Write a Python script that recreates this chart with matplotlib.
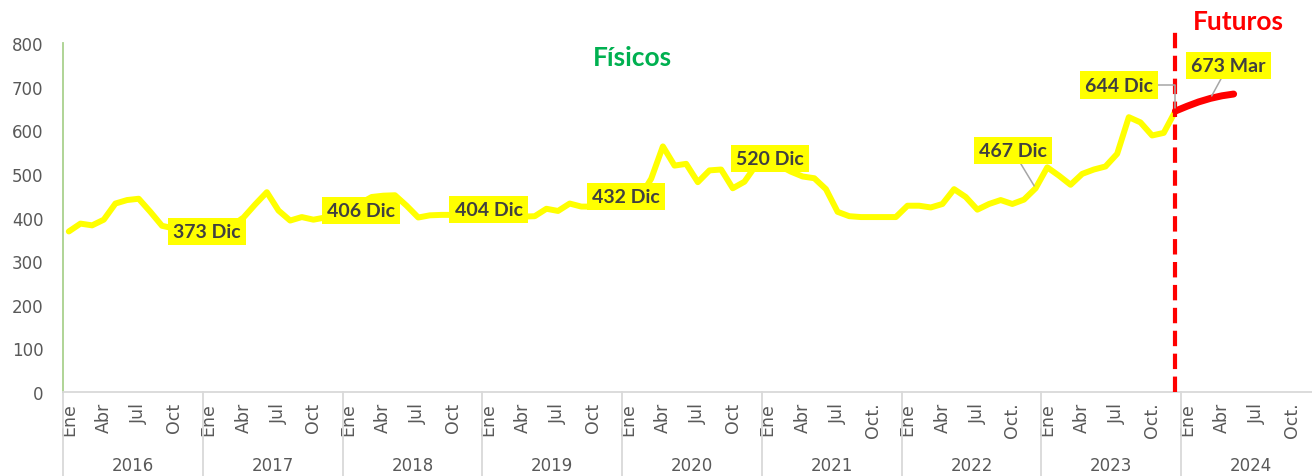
import matplotlib.pyplot as plt

# Precios físicos mensuales (Ene 2016 - Dic 2023)
years = ['2016', '2017', '2018', '2019', '2020', '2021', '2022', '2023', '2024']
quarter_labels = ['Ene', 'Abr', 'Jul']
oct_labels = ['Oct', 'Oct', 'Oct', 'Oct', 'Oct', 'Oct.', 'Oct.', 'Oct.', 'Oct.']

fisicos_2016 = [368, 386, 382, 395, 432, 440, 443, 413, 381, 375, 372, 373]
fisicos_2017 = [375, 378, 381, 400, 430, 458, 416, 393, 401, 395, 400, 406]
fisicos_2018 = [415, 432, 447, 450, 451, 427, 400, 405, 406, 406, 405, 404]
fisicos_2019 = [404, 405, 404, 402, 403, 420, 415, 432, 425, 425, 428, 432]
fisicos_2020 = [432, 445, 489, 563, 519, 523, 481, 508, 510, 467, 482, 520]
fisicos_2021 = [520, 519, 505, 494, 490, 465, 413, 403, 401, 401, 401, 401]
fisicos_2022 = [427, 427, 423, 431, 465, 447, 418, 431, 440, 431, 441, 467]
fisicos_2023 = [515, 496, 475, 500, 510, 517, 546, 630, 618, 588, 594, 644]
fisicos = (fisicos_2016 + fisicos_2017 + fisicos_2018 + fisicos_2019 +
           fisicos_2020 + fisicos_2021 + fisicos_2022 + fisicos_2023)

# Futuros Dic 2023 - May 2024
futuros = [644, 655, 665, 673, 679, 683]
futuros_start = len(fisicos) - 1

# Etiquetas: (indice del mes, texto)
label_idx = [11, 23, 35, 47, 59, 83, 95, 98]
label_text = ['373 Dic', '406 Dic', '404 Dic', '432 Dic', '520 Dic',
              '467 Dic', '644 Dic', '673 Mar']

W, H = 1312, 477
fig = plt.figure(figsize=(W / 100, H / 100), dpi=100)
ax = fig.add_axes([63 / W, 84 / H, 1258 / W, 349 / H])

n_months = 12 * len(years)
x_f = list(range(len(fisicos)))
x_fut = list(range(futuros_start, futuros_start + len(futuros)))
all_vals = fisicos + futuros[1:]

ax.plot(x_f, fisicos, color='#FFFF00', lw=4.3, solid_joinstyle='round',
        solid_capstyle='round', zorder=2)
ax.plot(x_fut, futuros, color='#FF0000', lw=5, solid_joinstyle='round',
        solid_capstyle='round', zorder=3)

# linea divisoria fisicos / futuros
ax.plot([futuros_start, futuros_start], [0, 1.046], transform=ax.get_xaxis_transform(),
        color='#FF0000', lw=3, dashes=(3.7, 1.8), clip_on=False, zorder=4)

ax.set_xlim(-0.5, n_months - 0.5)
ax.set_ylim(0, 800)
ax.set_yticks(range(0, 801, 100))
ax.tick_params(axis='y', length=0, pad=14, labelsize=12, labelcolor='#595959')

ticks, tick_labels = [], []
for k in range(len(years)):
    for j, lab in enumerate(quarter_labels + [oct_labels[k]]):
        ticks.append(12 * k + 3 * j)
        tick_labels.append(lab)
ax.set_xticks(ticks)
ax.set_xticklabels(tick_labels, rotation=90, va='top', ha='center')
ax.tick_params(axis='x', length=0, pad=7, labelsize=12.5, labelcolor='#595959')

for s in ['top', 'right']:
    ax.spines[s].set_visible(False)
ax.spines['left'].set_color('#A9D18E')
ax.spines['left'].set_linewidth(1.3)
ax.spines['bottom'].set_color('#D9D9D9')
ax.spines['bottom'].set_linewidth(1.3)

trans = ax.get_xaxis_transform()
for k in range(len(years) + 1):
    ax.plot([12 * k - 0.5] * 2, [0, -0.25], transform=trans, color='#D9D9D9',
            lw=1.3, clip_on=False)
for k, yr in enumerate(years):
    ax.text(12 * k + 5.5, -0.209, yr, transform=trans, ha='center', va='center',
            fontsize=12, color='#595959')

# offsets de las etiquetas en pixeles (dx, dy hacia arriba)
offsets = [(10, -2), (24, 4), (12, 6), (10, 7), (14, 7), (-23, 38), (-56, 26), (18, 33)]
leaders = [None, None, None, None, None, 'arc3', 'angle', 'arc3']
for idx, txt, (dx, dy), lead in zip(label_idx, label_text, offsets, leaders):
    arrow = None
    if lead == 'arc3':
        arrow = dict(arrowstyle='-', color='#A6A6A6', lw=1.1, shrinkA=0, shrinkB=2)
    elif lead == 'angle':
        arrow = dict(arrowstyle='-', color='#A6A6A6', lw=1.1, shrinkA=0, shrinkB=2,
                     connectionstyle='angle,angleA=0,angleB=90,rad=0')
    ax.annotate(txt, xy=(idx, all_vals[idx]), xytext=(dx * 0.72, dy * 0.72),
                textcoords='offset points', ha='center', va='center',
                fontsize=14, fontweight='bold', family='Lato', color='#404040',
                bbox=dict(boxstyle='square,pad=0.26', fc='#FFFF00', ec='none'),
                arrowprops=arrow, zorder=5)

fig.text(632 / W, 1 - 58 / H, 'Físicos', ha='center', va='center', fontsize=19,
         fontweight='bold', family='Lato', color='#00B050')
fig.text(1238 / W, 1 - 22 / H, 'Futuros', ha='center', va='center', fontsize=19,
         fontweight='bold', family='Lato', color='#FF0000')

fig.savefig('out.png', dpi=100)
